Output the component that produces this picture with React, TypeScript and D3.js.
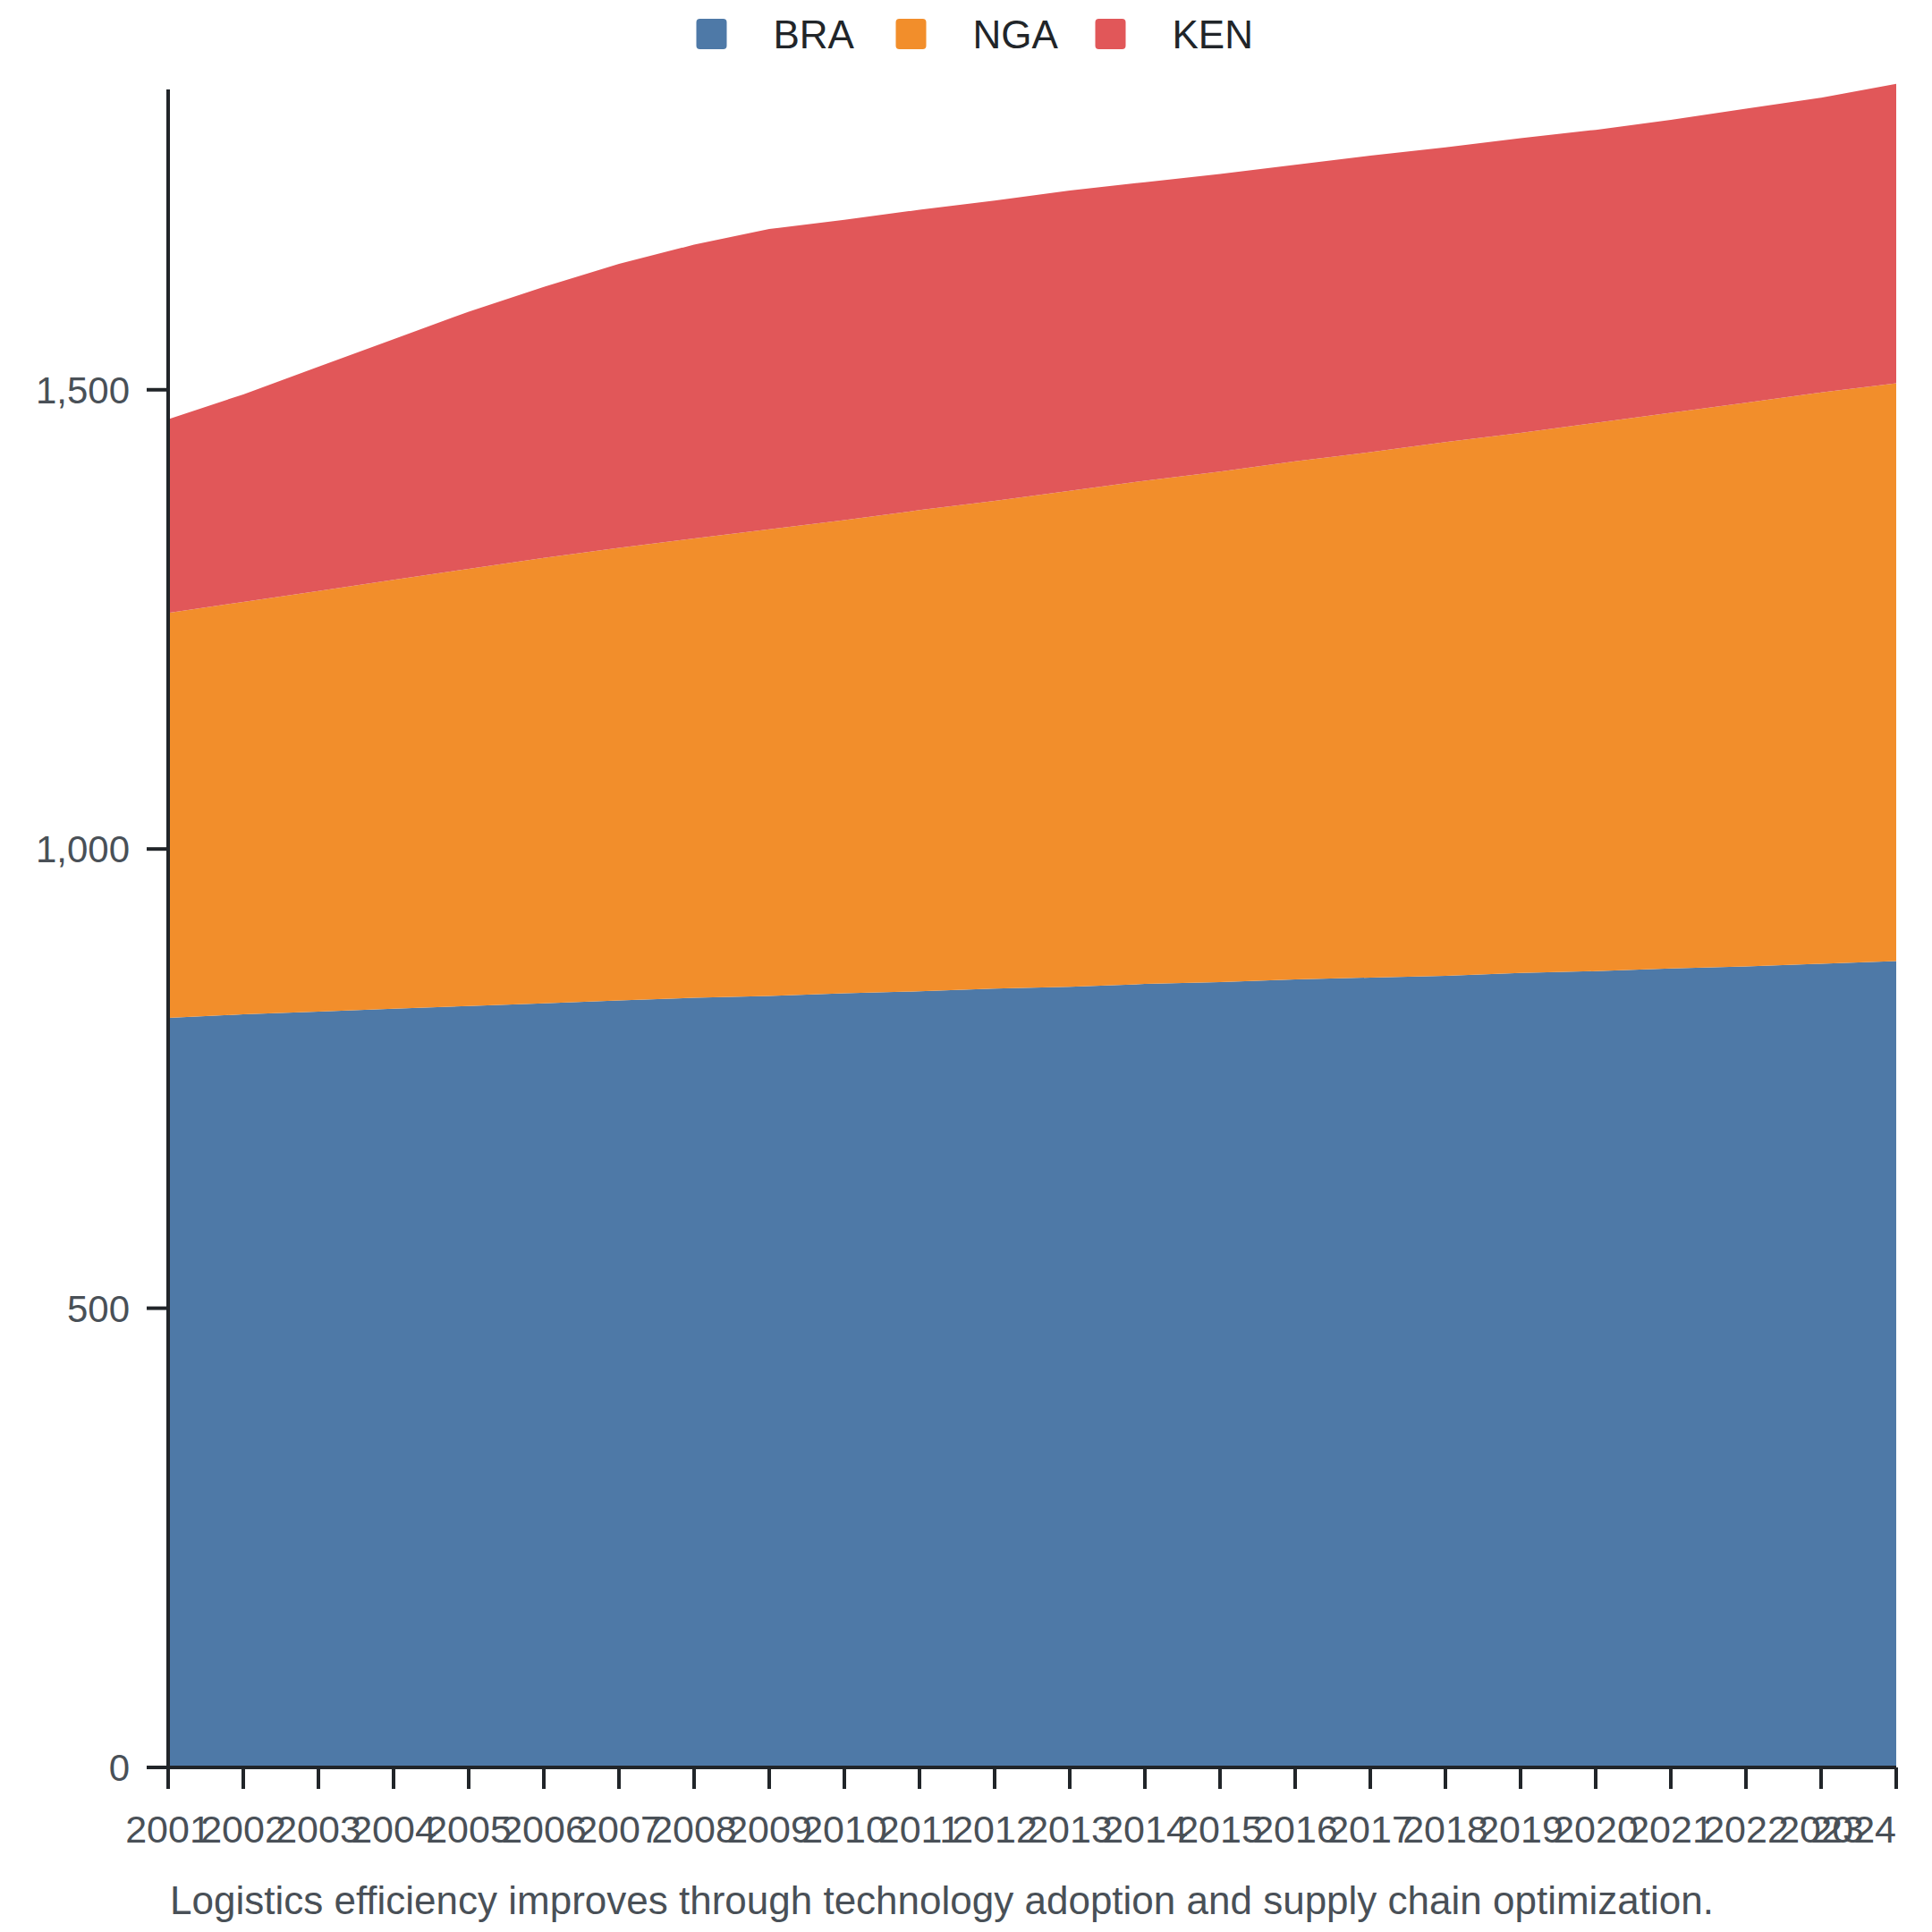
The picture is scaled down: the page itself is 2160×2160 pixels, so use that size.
import React from 'react';
import * as d3 from 'd3';

const years = [
  2001, 2002, 2003, 2004, 2005, 2006, 2007, 2008, 2009, 2010, 2011, 2012,
  2013, 2014, 2015, 2016, 2017, 2018, 2019, 2020, 2021, 2022, 2023, 2024,
];
const bra = [
  816, 820, 823, 826, 829, 832, 835, 838, 840, 843, 845, 848,
  850, 853, 855, 858, 860, 862, 865, 867, 870, 872, 875, 878,
];
const nga = [
  441, 449, 458, 467, 476, 485, 493, 500, 508, 515, 524, 531,
  540, 548, 556, 564, 572, 581, 588, 597, 605, 614, 622, 629,
];
const ken = [
  211, 226, 244, 262, 280, 295, 309, 320, 327, 327, 327, 327,
  327, 325, 324, 323, 323, 321, 321, 319, 319, 320, 321, 326,
];
const keys = ['BRA', 'NGA', 'KEN'];
const colors = ['#4e79a7', '#f28e2b', '#e15759'];
const yMax = 1827;
const caption =
  'Logistics efficiency improves through technology adoption and supply chain optimization.';

const W = 2160;
const H = 2160;
const margin = { top: 100, right: 40, bottom: 184, left: 188 };

const App: React.FC = () => {
  const rows = years.map((y, i) => ({ year: y, BRA: bra[i], NGA: nga[i], KEN: ken[i] }));
  const series = d3.stack<any>().keys(keys)(rows);

  const x = d3.scaleLinear()
    .domain([years[0], years[years.length - 1]])
    .range([margin.left, W - margin.right]);
  const y = d3.scaleLinear()
    .domain([0, yMax])
    .range([H - margin.bottom, margin.top]);

  const area = d3.area<any>()
    .x((d) => x(d.data.year))
    .y0((d) => y(d[0]))
    .y1((d) => y(d[1]))
    .curve(d3.curveLinear);

  const font = 'Liberation Sans, Arial, sans-serif';
  const axisColor = '#212529';
  const labelColor = '#495057';
  const y0 = y(0);
  const yTicks = y.ticks(4);
  const fmt = d3.format(',');

  const legendStride = 223;
  const legendStart = W / 2 - (legendStride * (keys.length - 1) + 175) / 2 + 9;

  return (
    <svg width={W} height={H} style={{ position: 'absolute', left: 0, top: 0, background: '#fff' }}>
      {series.map((s, i) => (
        <path key={keys[i]} d={area(s) || ''} fill={colors[i]} />
      ))}

      {/* y axis */}
      <line x1={x.range()[0]} x2={x.range()[0]} y1={y.range()[1]} y2={y0} stroke={axisColor} strokeWidth={4} />
      {yTicks.map((t) => (
        <g key={t} transform={`translate(${margin.left},${y(t)})`}>
          <line x1={-24} x2={0} stroke={axisColor} strokeWidth={4} />
          <text x={-43} dy="0.36em" textAnchor="end" fontSize={42} fontFamily={font} fill={labelColor}>
            {fmt(t)}
          </text>
        </g>
      ))}

      {/* x axis */}
      <line x1={margin.left} x2={x.range()[1]} y1={y0} y2={y0} stroke={axisColor} strokeWidth={4} />
      {years.map((yr, i) => (
        <g key={yr} transform={`translate(${x(yr)},${y0})`}>
          <line y1={0} y2={24} stroke={axisColor} strokeWidth={4} />
          <text
            y={84}
            textAnchor={i === years.length - 1 ? 'end' : 'middle'}
            fontSize={43}
            fontFamily={font}
            fill={labelColor}
          >
            {yr}
          </text>
        </g>
      ))}

      {/* legend */}
      {keys.map((k, i) => (
        <g key={k} transform={`translate(${legendStart + i * legendStride},21)`}>
          <rect width={34} height={34} rx={4} fill={colors[i]} />
          <text x={86} y={33} fontSize={44} fontFamily={font} fill="#212529">
            {k}
          </text>
        </g>
      ))}

      <text x={margin.left + 2} y={2140} fontSize={44} fontFamily={font} fill={labelColor}>
        {caption}
      </text>
    </svg>
  );
};

export default App;
